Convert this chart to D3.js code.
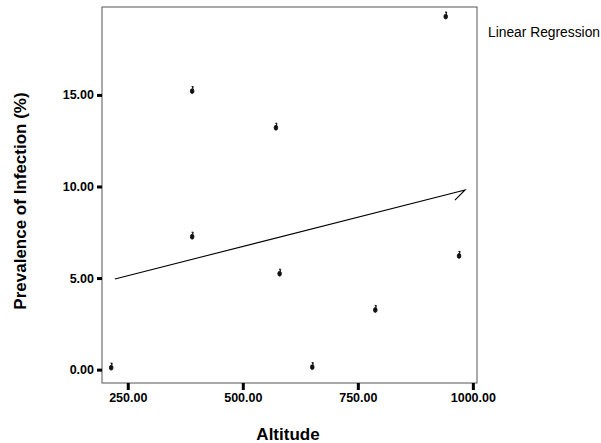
<!DOCTYPE html>
<html>
<head>
<meta charset="utf-8">
<script src="https://cdn.jsdelivr.net/npm/d3@7"></script>
<style>
  body { margin: 0; background: #fff; }
  svg { font-family: "Liberation Sans", Arial, sans-serif; }
</style>
</head>
<body>
<svg id="chart" width="601" height="443"></svg>
<script>
// altitude vs prevalence
var altitude = [214, 390, 390, 572, 580, 651, 788, 941, 970];
var prevalence = [0.15, 15.25, 7.3, 13.25, 5.28, 0.18, 3.3, 19.32, 6.25];

// regression line as drawn (with the little hook at the end)
var lineAltitude = [222, 983, 961];
var linePrevalence = [4.95, 9.81, 9.26];

var xTicks = [250, 500, 750, 1000];
var yTicks = [0, 5, 10, 15];

var svg = d3.select("#chart");

var x = d3.scaleLinear().domain([194, 1009]).range([102, 477]);
var y = d3.scaleLinear().domain([-0.73, 19.8]).range([383, 7]);

// frame
svg.append("rect")
    .attr("x", x.range()[0])
    .attr("y", y.range()[1])
    .attr("width", x.range()[1] - x.range()[0])
    .attr("height", y.range()[0] - y.range()[1])
    .attr("fill", "none")
    .attr("stroke", "#555")
    .attr("stroke-width", 1);

var yAxis = svg.append("g")
    .attr("transform", "translate(" + x.range()[0] + ",0)")
    .call(d3.axisLeft(y)
        .tickValues(yTicks)
        .tickSize(5)
        .tickPadding(3)
        .tickFormat(function (d) { return d.toFixed(2); }));

var xAxis = svg.append("g")
    .attr("transform", "translate(0," + y.range()[0] + ")")
    .call(d3.axisBottom(x)
        .tickValues(xTicks)
        .tickSize(7)
        .tickPadding(3)
        .tickFormat(function (d) { return d.toFixed(2); }));

[yAxis, xAxis].forEach(function (ax) {
    ax.select(".domain").remove();
    ax.selectAll("line")
        .attr("stroke", "#000")
        .attr("stroke-width", 3);
    ax.selectAll("text")
        .attr("font-size", 12.5)
        .attr("font-weight", "bold")
        .attr("font-family", "Liberation Sans, Arial, sans-serif")
        .attr("fill", "#000");
});

// regression line
var line = d3.line()
    .x(function (d) { return x(d[0]); })
    .y(function (d) { return y(d[1]); });

svg.append("path")
    .datum(d3.zip(lineAltitude, linePrevalence))
    .attr("d", line)
    .attr("fill", "none")
    .attr("stroke", "#000")
    .attr("stroke-width", 1.1);

// little spss-ish markers
var markerPath = "M-0.6,-3.8 L1,-3.8 L0.7,-1.4 M-1.8,0.8 A1.8,2.4 0 1,0 1.8,0.8 A1.8,2.4 0 1,0 -1.8,0.8 Z";

svg.append("g").selectAll("path")
    .data(d3.zip(altitude, prevalence))
    .enter()
    .append("path")
        .attr("transform", function (d) {
            return "translate(" + x(d[0]) + "," + y(d[1]) + ")";
        })
        .attr("d", markerPath)
        .attr("fill", "#111")
        .attr("stroke", "#111")
        .attr("stroke-width", 0.9);

// axis titles
svg.append("text")
    .attr("x", 288)
    .attr("y", 440)
    .attr("text-anchor", "middle")
    .attr("font-size", 17)
    .attr("font-weight", "bold")
    .text("Altitude");

svg.append("text")
    .attr("transform", "translate(26,201) rotate(-90)")
    .attr("text-anchor", "middle")
    .attr("font-size", 17)
    .attr("font-weight", "bold")
    .text("Prevalence of Infection (%)");

// legend
svg.append("text")
    .attr("x", 488)
    .attr("y", 37)
    .attr("font-size", 13.8)
    .text("Linear Regression");
</script>
</body>
</html>
